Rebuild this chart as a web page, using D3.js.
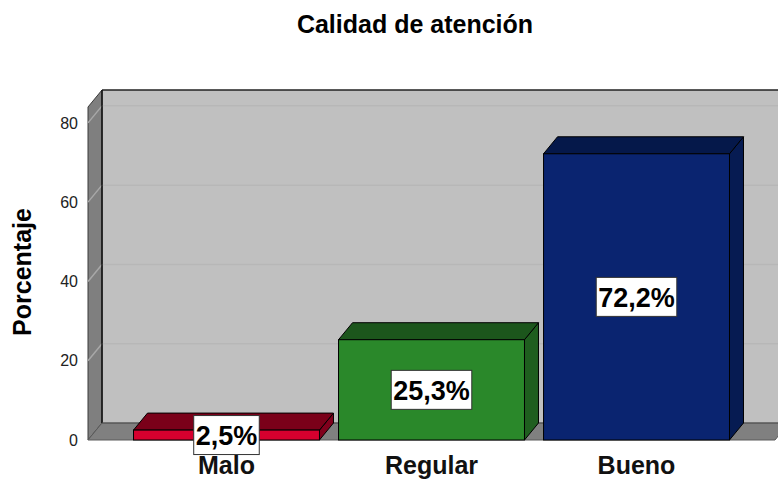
<!DOCTYPE html>
<html>
<head>
<meta charset="utf-8">
<script src="https://cdn.jsdelivr.net/npm/d3@7"></script>
<style>
  body { margin: 0; background: #fff; }
  svg text { font-family: Arial, "Liberation Sans", sans-serif; }
</style>
</head>
<body>
<div id="chart"></div>
<script>
// Data
const categories = ["Malo", "Regular", "Bueno"];
const percentages = [2.5, 25.3, 72.2];
const valueLabels = ["2,5%", "25,3%", "72,2%"];
const yTicks = [0, 20, 40, 60, 80];

// bar colours: front face, top, right side
const frontColors = ["#d6002e", "#2a882a", "#0a2470"];
const topColors = ["#7a0019", "#1c561c", "#05184a"];
const sideColors = ["#80001c", "#1f5e1f", "#061b52"];

const W = 778, H = 481;
const plot = { left: 88, right: 775, top: 107, bottom: 440 };
const depth = { dx: 14, dy: -17 };

const svg = d3.select("#chart").append("svg")
    .attr("width", W)
    .attr("height", H);

const x = d3.scaleBand()
    .domain(categories)
    .range([plot.left, plot.right])
    .paddingInner(0.093)
    .paddingOuter(0.222);

const y = d3.scaleLinear()
    .domain([0, 84])
    .range([plot.bottom, plot.top]);

// ---- 3D frame: back wall, left wall, floor ----
const bx0 = plot.left + depth.dx, bx1 = plot.right + depth.dx;
const by0 = plot.top + depth.dy, by1 = plot.bottom + depth.dy;

svg.append("rect")
    .attr("x", bx0).attr("y", by0)
    .attr("width", bx1 - bx0).attr("height", by1 - by0)
    .attr("fill", "#c0c0c0");

svg.append("polygon")
    .attr("points", [[plot.left, plot.bottom], [plot.left, plot.top], [bx0, by0], [bx0, by1]].join(" "))
    .attr("fill", "#7f7f7f")
    .attr("stroke", "#3a3a3a")
    .attr("stroke-width", 1);

svg.append("polygon")
    .attr("points", [[plot.left, plot.bottom], [bx0, by1], [bx1, by1], [plot.right, plot.bottom]].join(" "))
    .attr("fill", "#808080")
    .attr("stroke", "#5a5a5a")
    .attr("stroke-width", 1);

// gridlines on back wall and left wall
const grid = svg.append("g");
yTicks.filter(t => t > 0).forEach(t => {
  grid.append("line")
      .attr("x1", bx0).attr("x2", bx1)
      .attr("y1", y(t) + depth.dy).attr("y2", y(t) + depth.dy)
      .attr("stroke", "#b7b7b7").attr("stroke-width", 1.5);
  grid.append("line")
      .attr("x1", plot.left).attr("x2", bx0)
      .attr("y1", y(t)).attr("y2", y(t) + depth.dy)
      .attr("stroke", "#a8a8a8").attr("stroke-width", 1.5);
});

// dark edges of the back wall
svg.append("line")
    .attr("x1", bx0).attr("x2", bx1).attr("y1", by0).attr("y2", by0)
    .attr("stroke", "#222").attr("stroke-width", 1.5);
svg.append("line")
    .attr("x1", bx0).attr("x2", bx0).attr("y1", by0).attr("y2", by1)
    .attr("stroke", "#111").attr("stroke-width", 1.5);
svg.append("line")
    .attr("x1", bx0).attr("x2", bx1).attr("y1", by1).attr("y2", by1)
    .attr("stroke", "#555").attr("stroke-width", 1);

// ---- y axis tick labels ----
svg.append("g")
  .selectAll("text")
  .data(yTicks)
  .join("text")
    .attr("x", 78)
    .attr("y", d => y(d))
    .attr("dy", "0.36em")
    .attr("text-anchor", "end")
    .attr("font-size", 16)
    .attr("fill", "#222")
    .text(d => d);

// ---- 3D bars ----
const bars = svg.append("g")
  .selectAll("g")
  .data(categories)
  .join("g");

bars.each(function(c, i) {
  const g = d3.select(this);
  const x0 = x(c), w = x.bandwidth();
  const y1 = y(percentages[i]), y0 = y(0);
  const dx = depth.dx, dy = depth.dy;

  g.append("polygon")
      .attr("points", [[x0 + w, y1], [x0 + w + dx, y1 + dy], [x0 + w + dx, y0 + dy], [x0 + w, y0]].join(" "))
      .attr("fill", sideColors[i])
      .attr("stroke", "#000").attr("stroke-width", 1).attr("stroke-linejoin", "round");

  g.append("polygon")
      .attr("points", [[x0, y1], [x0 + dx, y1 + dy], [x0 + w + dx, y1 + dy], [x0 + w, y1]].join(" "))
      .attr("fill", topColors[i])
      .attr("stroke", "#000").attr("stroke-width", 1).attr("stroke-linejoin", "round");

  g.append("rect")
      .attr("x", x0).attr("y", y1)
      .attr("width", w).attr("height", y0 - y1)
      .attr("fill", frontColors[i])
      .attr("stroke", "#000").attr("stroke-width", 1);
});

// ---- value labels in white boxes ----
bars.each(function(c, i) {
  const g = d3.select(this);
  const cx = x(c) + x.bandwidth() / 2;
  const cy = (y(percentages[i]) + y(0)) / 2;
  const box = g.append("rect")
      .attr("fill", "#fff")
      .attr("stroke", "#333").attr("stroke-width", 1);
  const txt = g.append("text")
      .attr("x", cx)
      .attr("y", cy)
      .attr("dy", "0.36em")
      .attr("text-anchor", "middle")
      .attr("font-size", 27)
      .attr("font-weight", "bold")
      .attr("fill", "#000")
      .text(valueLabels[i]);
  const bb = txt.node().getBBox();
  box.attr("x", bb.x - 2).attr("y", cy - 19.5)
     .attr("width", bb.width + 4).attr("height", 39);
});

// ---- category labels ----
svg.append("g")
  .selectAll("text")
  .data(categories)
  .join("text")
    .attr("x", d => x(d) + x.bandwidth() / 2)
    .attr("y", 474)
    .attr("text-anchor", "middle")
    .attr("font-size", 25)
    .attr("font-weight", "bold")
    .attr("fill", "#111")
    .text(d => d);

// ---- title & axis title ----
svg.append("text")
    .attr("x", 415)
    .attr("y", 33)
    .attr("text-anchor", "middle")
    .attr("font-size", 25)
    .attr("font-weight", "bold")
    .text("Calidad de atención");

svg.append("text")
    .attr("transform", "translate(31,272) rotate(-90)")
    .attr("text-anchor", "middle")
    .attr("font-size", 25)
    .attr("font-weight", "bold")
    .text("Porcentaje");
</script>
</body>
</html>
